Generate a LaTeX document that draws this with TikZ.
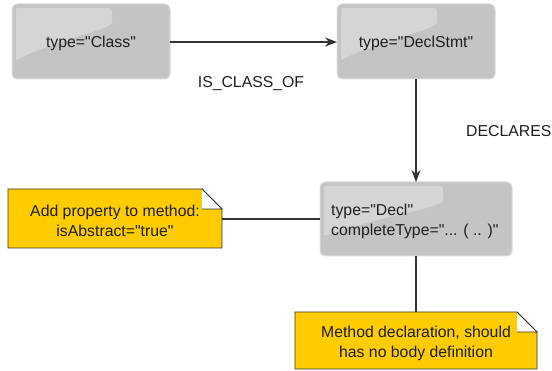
\documentclass[tikz,border=0pt]{standalone}
\usepackage{fontspec}
\setmainfont{Liberation Sans}[Ligatures=TeXOff]
\usetikzlibrary{arrows.meta}
\definecolor{boxgray}{HTML}{C4C4C4}
\definecolor{boxedge}{HTML}{DCDCDC}
\definecolor{noteyellow}{HTML}{FFCC00}
\tikzset{
  txt/.style={font=\fontsize{15.8}{20}\selectfont, inner sep=0pt, text=black!88},
  graybox/.style={fill=boxgray, draw=boxedge, line width=1pt, rounded corners=5pt},
  gloss/.style={fill=white, fill opacity=0.3, draw=none},
  notebox/.style={fill=noteyellow, draw=black!80, line width=0.9pt},
  link/.style={draw=black!80, line width=1.1pt},
  arr/.style={link, -{Stealth[length=12pt,width=9pt]}}
}
\begin{document}
\begin{tikzpicture}[x=1pt,y=-1pt]
\useasboundingbox (0,0) rectangle (552,371);
% gray boxes
\draw[graybox] (12,4) rectangle (170,79);
\path[gloss] (16,12) .. controls (16,8) .. (20,8) -- (106,8) .. controls (112,8) .. (112,14) -- (112,22) .. controls (112,30) and (60,38) .. (16,60) -- cycle;
\coordinate (classW) at (12,42);
\coordinate (classE) at (170,42);
\node[txt] (cls) at (91,43) {type="Class"};

\draw[graybox] (337,4) rectangle (495,79);
\path[gloss] (341,12) .. controls (341,8) .. (345,8) -- (431,8) .. controls (437,8) .. (437,14) -- (437,22) .. controls (437,30) and (385,38) .. (341,60) -- cycle;
\coordinate (dsW) at (337,42);
\coordinate (dsS) at (416,79);
\node[txt] (ds) at (416,43) {type="DeclStmt"};

\draw[graybox] (320,182) rectangle (512,256);
\path[gloss] (324,190) .. controls (324,186) .. (328,186) -- (437,186) .. controls (443,186) .. (443,192) -- (443,200) .. controls (443,208) and (380,216) .. (324,236) -- cycle;
\coordinate (declN) at (416,182);
\coordinate (declW) at (320,219);
\coordinate (declS) at (416,256);
\node[txt, anchor=west, align=left] (decl) at (331,221) {type="Decl"\\completeType="... ( .. )"};

% notes
\draw[notebox] (8,189) -- (202,189) -- (222,209) -- (222,248) -- (8,248) -- cycle;
\filldraw[fill=white, draw=black!80, line width=0.8pt] (202,189) -- (222,209) -- (202,209);
\coordinate (n1E) at (222,219);
\node[txt, align=center] (n1) at (115,221) {Add property to method:\\isAbstract="true"};

\draw[notebox] (295,312) -- (517,312) -- (537,332) -- (537,369) -- (295,369) -- cycle;
\filldraw[fill=white, draw=black!80, line width=0.8pt] (517,312) -- (537,332) -- (517,332);
\coordinate (n2N) at (416,312);
\node[txt, align=center] (n2) at (416,343) {Method declaration, should\\has no body definition};

% connectors
\draw[arr] (classE) -- (dsW);
\draw[arr] (dsS) -- (declN);
\draw[link] (n1E) -- (declW);
\draw[link] (declS) -- (n2N);

% labels
\node[txt] (lbl1) at (251,84) {IS\_CLASS\_OF};
\node[txt, anchor=west] (lbl2) at (466,131) {DECLARES};
\end{tikzpicture}
\end{document}
